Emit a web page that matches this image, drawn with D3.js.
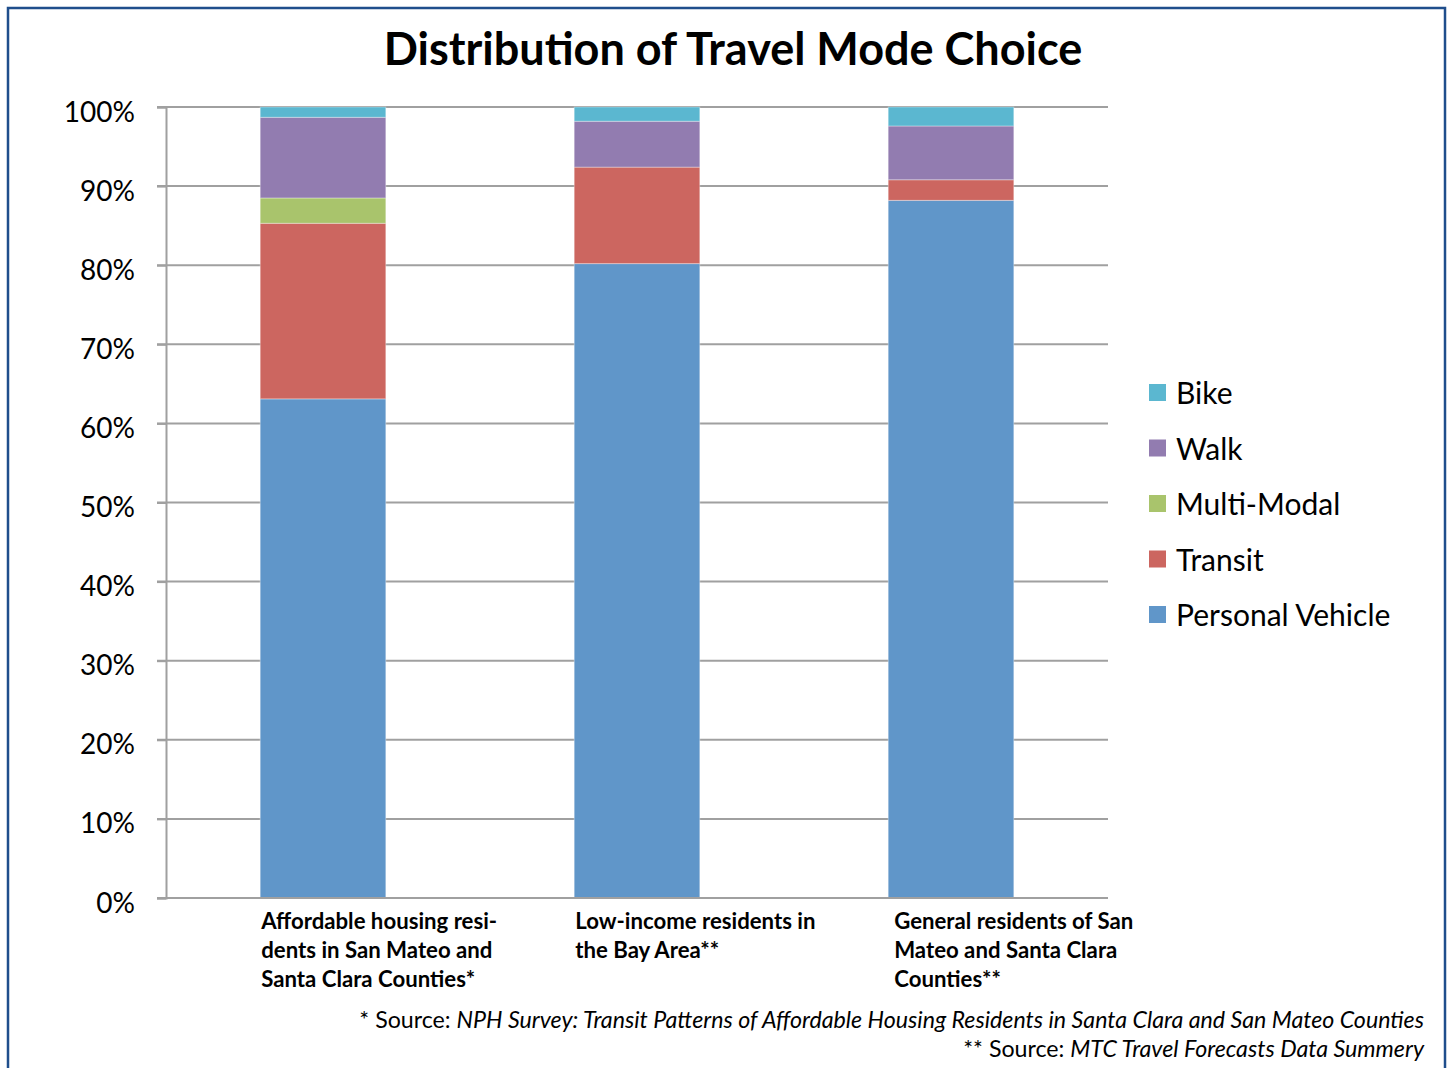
<!DOCTYPE html>
<html>
<head>
<meta charset="utf-8">
<style>
body { margin: 0; background: #fff; }
text { font-family: Lato, "Open Sans", sans-serif; fill: #000; }
.grid line { stroke: #a0a0a0; stroke-width: 2px; }
</style>
</head>
<body>
<svg></svg>
<script src="https://cdn.jsdelivr.net/npm/d3@7"></script>
<script>
// data (percent of trips)
var categories = ["aff", "low", "gen"];
var categoryLabels = [
  ["Affordable housing resi-", "dents in San Mateo and", "Santa Clara Counties*"],
  ["Low-income residents in", "the Bay Area**"],
  ["General residents of San", "Mateo and Santa Clara", "Counties**"]
];
var modes = ["Personal Vehicle", "Transit", "Multi-Modal", "Walk", "Bike"];
var personalVehicle = [63.1, 80.2, 88.2];
var transit = [22.2, 12.2, 2.6];
var multiModal = [3.2, 0, 0];
var walk = [10.2, 5.8, 6.8];
var bike = [1.3, 1.8, 2.4];
var yTicks = [0, 10, 20, 30, 40, 50, 60, 70, 80, 90, 100];
var colors = ["#6096c9", "#cc6660", "#a9c46c", "#927cb0", "#5bb7d0"];

var width = 1450, height = 1068;
var svg = d3.select("svg").attr("width", width).attr("height", height);

// outer frame
svg.append("rect")
    .attr("x", 8).attr("y", 8)
    .attr("width", 1437).attr("height", 1080)
    .attr("fill", "none")
    .attr("stroke", "#1f4e8c")
    .attr("stroke-width", 2.5);

var plotLeft = 166, plotRight = 1108, plotTop = 107, plotBottom = 898;

var x = d3.scaleBand()
    .domain(categories)
    .range([plotLeft, plotRight])
    .paddingInner(0.6)
    .paddingOuter(0.3);

var y = d3.scaleLinear().domain([0, 100]).range([plotBottom, plotTop]);

// gridlines
svg.append("g")
    .attr("class", "grid")
    .selectAll("line")
    .data(yTicks.slice(1))
    .enter().append("line")
    .attr("x1", plotLeft - 9).attr("x2", plotRight)
    .attr("y1", function(d) { return y(d); })
    .attr("y2", function(d) { return y(d); });

// stacked bars
var table = categories.map(function(c, i) {
  return {
    key: c,
    "Personal Vehicle": personalVehicle[i],
    "Transit": transit[i],
    "Multi-Modal": multiModal[i],
    "Walk": walk[i],
    "Bike": bike[i]
  };
});
var series = d3.stack().keys(modes)(table);

svg.append("g").selectAll("g")
    .data(series)
    .enter().append("g")
    .attr("fill", function(d, i) { return colors[i]; })
  .selectAll("rect")
    .data(function(d) { return d.filter(function(p) { return p[1] - p[0] > 0; }); })
    .enter().append("rect")
    .attr("x", function(d) { return x(d.data.key); })
    .attr("width", x.bandwidth())
    .attr("y", function(d) { return y(d[1]); })
    .attr("height", function(d) { return y(d[0]) - y(d[1]); })
    .attr("stroke", "rgba(255,255,255,0.35)")
    .attr("stroke-width", 1);

// axes
var yAxis = svg.append("g")
    .attr("transform", "translate(" + plotLeft + ",0)")
    .call(d3.axisLeft(y).tickValues(yTicks).tickSize(9).tickFormat(function(d) { return d + "%"; }));
yAxis.select(".domain").attr("stroke", "#a0a0a0").attr("stroke-width", 2);
yAxis.selectAll(".tick line").attr("stroke", "#a0a0a0").attr("stroke-width", 2);
yAxis.selectAll(".tick text")
    .attr("x", -31)
    .attr("dy", "0.5em")
    .style("font-size", "28px")
    .style("font-family", "Lato, 'Open Sans', sans-serif")
    .attr("fill", "#000");

svg.append("line")
    .attr("x1", plotLeft - 9).attr("x2", plotRight)
    .attr("y1", plotBottom).attr("y2", plotBottom)
    .attr("stroke", "#a0a0a0").attr("stroke-width", 2);

// category labels
categories.forEach(function(c, i) {
  var lx = x(c) + (i === 2 ? 6 : 1);
  var t = svg.append("text")
      .attr("x", lx)
      .attr("y", 929)
      .style("font-size", "22.2px")
      .style("font-weight", "bold");
  categoryLabels[i].forEach(function(line, j) {
    t.append("tspan")
        .attr("x", lx)
        .attr("dy", j === 0 ? 0 : 29)
        .text(line);
  });
});

// title
svg.append("text")
    .attr("x", 733).attr("y", 65)
    .attr("text-anchor", "middle")
    .style("font-size", "45px")
    .style("font-weight", "bold")
    .text("Distribution of Travel Mode Choice");

// legend
var legendModes = modes.slice().reverse();
var legendColors = colors.slice().reverse();
var legend = svg.append("g").selectAll("g")
    .data(legendModes)
    .enter().append("g")
    .attr("transform", function(d, i) { return "translate(1149," + (394 + i * 55.5) + ")"; });
legend.append("rect")
    .attr("x", 0).attr("y", -10)
    .attr("width", 17).attr("height", 17)
    .attr("fill", function(d, i) { return legendColors[i]; });
legend.append("text")
    .attr("x", 27).attr("y", 10)
    .style("font-size", "30px")
    .text(function(d) { return d; });

// footnotes
var f1 = svg.append("text")
    .attr("x", 1424).attr("y", 1028)
    .attr("text-anchor", "end")
    .style("font-size", "23.2px");
f1.append("tspan").text("* Source: ");
f1.append("tspan").style("font-style", "italic")
    .text("NPH Survey: Transit Patterns of Affordable Housing Residents in Santa Clara and San Mateo Counties");

var f2 = svg.append("text")
    .attr("x", 1424).attr("y", 1057)
    .attr("text-anchor", "end")
    .style("font-size", "23.2px");
f2.append("tspan").text("** Source: ");
f2.append("tspan").style("font-style", "italic").text("MTC Travel Forecasts Data Summery");
</script>
</body>
</html>
